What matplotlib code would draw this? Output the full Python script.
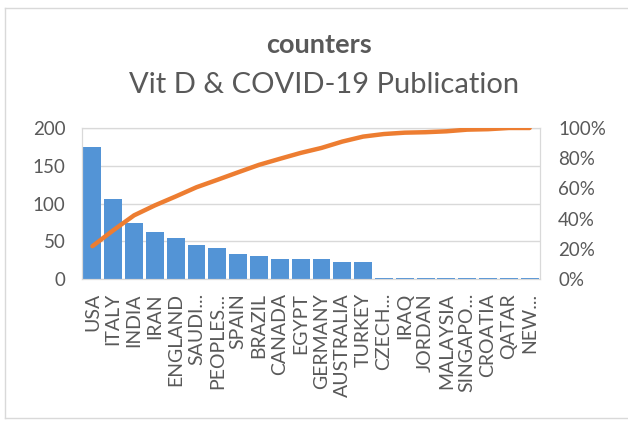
import numpy as np
import matplotlib
matplotlib.use("Agg")
import matplotlib.pyplot as plt
from matplotlib.ticker import PercentFormatter

countries = ["USA", "ITALY", "INDIA", "IRAN", "ENGLAND", "SAUDI...", "PEOPLES...",
             "SPAIN", "BRAZIL", "CANADA", "EGYPT", "GERMANY", "AUSTRALIA", "TURKEY",
             "CZECH...", "IRAQ", "JORDAN", "MALAYSIA", "SINGAPO...", "CROATIA",
             "QATAR", "NEW..."]
counts = [175, 106, 74, 62, 55, 45, 41, 33, 31, 26, 26, 26, 23, 23,
          2, 2, 2, 2, 2, 2, 2, 2]
# cumulative share as drawn by the pareto line
cum_pct = [21.8, 32.3, 42.2, 48.8, 54.7, 60.8, 65.7, 70.7, 75.6, 79.6, 83.5,
           86.8, 91.0, 94.3, 96.0, 96.9, 97.2, 97.8, 98.9, 99.2, 100.0, 100.0]

TXT = "#595959"
GRID = "#D9D9D9"
plt.rcParams["font.family"] = ["Lato", "DejaVu Sans"]

fig = plt.figure(figsize=(6.28, 4.21), dpi=100)
ax = fig.add_axes([0.1306, 0.337, 0.7294, 0.359])

x = np.arange(len(countries))
ax.bar(x, counts, width=0.86, color="#5394D6", zorder=2)
ax.set_xlim(-0.5, len(countries) - 0.5)
ax.set_ylim(0, 200)
ax.set_yticks([0, 50, 100, 150, 200])
ax.grid(axis="y", color=GRID, lw=1, zorder=0)
ax.set_xticks(x)
ax.set_xticklabels(countries, rotation=90, va="top", ha="center")
ax.tick_params(axis="x", length=0, pad=10, labelsize=14, labelcolor=TXT)
ax.tick_params(axis="y", length=0, pad=12, labelsize=13.5, labelcolor=TXT)
for s in ax.spines.values():
    s.set_color(GRID)

ax2 = ax.twinx()
ax2.plot(x, cum_pct, color="#ED7D31", lw=3.2, solid_capstyle="round",
         solid_joinstyle="round", zorder=3)
ax2.set_ylim(0, 100)
ax2.set_yticks([0, 20, 40, 60, 80, 100])
ax2.yaxis.set_major_formatter(PercentFormatter(decimals=0))
ax2.tick_params(axis="y", length=0, pad=13, labelsize=13.5, labelcolor=TXT)
for s in ax2.spines.values():
    s.set_color(GRID)

fig.text(0.5085, 0.893, "counters", ha="center", va="center", fontsize=19.5,
         fontweight="bold", color=TXT)
fig.text(0.5165, 0.798, "Vit D & COVID-19 Publication", ha="center", va="center",
         fontsize=21, color=TXT)

# chart area border
for xs, ys in [([0.008, 0.008], [0.007, 0.981]), ([0.008, 1.0], [0.981, 0.981]),
               ([0.008, 1.0], [0.007, 0.007])]:
    fig.add_artist(plt.Line2D(xs, ys, color=GRID, lw=1))

fig.savefig("out.png", dpi=100)
